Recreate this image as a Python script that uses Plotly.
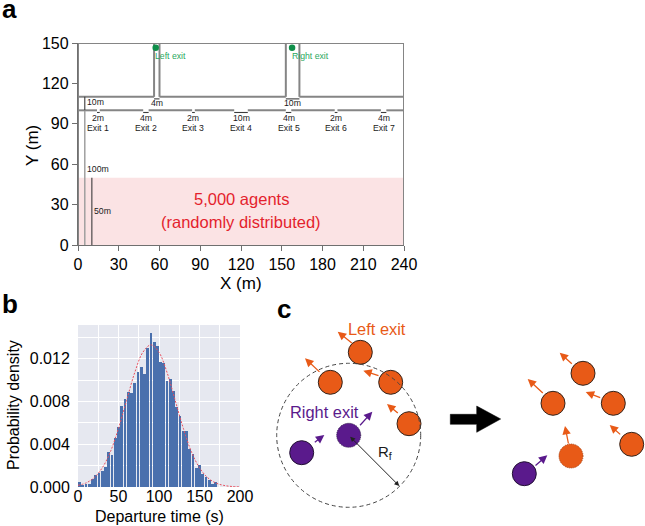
import plotly.graph_objects as go

W, H = 645, 526
FONT = "Liberation Sans"

# ---------- panel a data ----------
x_ticks_a = [0, 30, 60, 90, 120, 150, 180, 210, 240]
y_ticks_a = [0, 30, 60, 90, 120, 150]
exit_names = ["Exit 1", "Exit 2", "Exit 3", "Exit 4", "Exit 5", "Exit 6", "Exit 7"]
exit_centers = [15, 50, 85, 120, 155, 190, 225]
exit_widths = [2, 4, 2, 10, 4, 2, 4]
corridor_left = [56, 60]
corridor_right = [153, 163]
agents_height = 50
target_x = [57.2, 157.6]
target_y = [146.4, 146.4]

# ---------- panel b data ----------
bin_width = 4
hist_values = [
    .0005, .0002, .00025, .00025, .00075, .0011, .00135, .0015, .0019, .0033, .0030,
    .0046, .0056, .0076, .0082, .0089, .0088, .0097, .0108, .0112, .0106, .0130,
    .0144, .0136, .0132, .0117, .0116, .0099, .0101, .0090, .0075, .0066, .0052,
    .0052, .0036, .0031, .0018, .0021, .0012, .0009, .0007, .0003, .0005,
]
curve_x = [0, 10, 20, 30, 40, 50, 60, 70, 80, 90, 100, 110, 120, 130, 140, 150, 160, 170, 180, 190, 200]
curve_y = [.00015, .00038, .00088, .0018, .0033, .0055, .0081, .0107, .0126, .0133, .0126,
           .0107, .0081, .0055, .0033, .0018, .00088, .00038, .00015, .00005, .00002]

# ---------- panel c data (schematic, canvas pixels) ----------
orange_x = [360.3, 330.3, 390.7, 409.0, 583.0, 553.0, 613.3, 631.7]
orange_y = [352.3, 382.3, 382.3, 423.7, 373.3, 403.3, 403.3, 444.3]
purple_x = [301.7, 524.3]
purple_y = [452.7, 473.7]
dashed_orange = (571.0, 456.0)
dashed_purple = (348.7, 435.3)
range_circle = (348.7, 435.3, 72.0)
orange_arrows = [
    (353.3, 344.3, 337.7, 331.7), (321.0, 373.3, 305.0, 358.3), (380.0, 376.0, 363.3, 370.7),
    (399.3, 414.3, 387.0, 404.0), (573.3, 365.0, 559.7, 352.7), (544.3, 394.3, 527.7, 379.0),
    (601.7, 398.3, 585.7, 392.0), (621.7, 435.7, 609.7, 425.0), (568.7, 445.0, 565.0, 426.0),
]
purple_arrows = [(313.3, 443.3, 324.3, 435.0), (358.7, 426.7, 372.3, 411.7), (534.0, 466.7, 547.3, 455.3)]
big_arrow_x = [450.3, 476.7, 476.7, 500.7, 476.7, 476.7, 450.3, 450.3]
big_arrow_y = [414.3, 414.3, 406.0, 419.0, 432.3, 424.3, 424.3, 414.3]

GREY = "#858585"
DARK = "#3c3c3c"
ORANGE = "#e85a17"
PURPLE = "#5a1a8c"
TXT = "#1a1a1a"

# walls (data units of panel a)
wx, wy = [], []
def seg(x0, y0, x1, y1):
    wx.extend([x0, x1, None])
    wy.extend([y0, y1, None])

seg(0, 150, 240, 150)
seg(0, 0, 0, 150)
seg(240, 0, 240, 150)
seg(0, 110, corridor_left[0], 110)
seg(corridor_left[1], 110, corridor_right[0], 110)
seg(corridor_right[1], 110, 240, 110)
for c in corridor_left + corridor_right:
    seg(c, 110, c, 150)
edge = 0
for c, w in zip(exit_centers, exit_widths):
    seg(edge, 100, c - w / 2, 100)
    edge = c + w / 2
seg(edge, 100, 240, 100)

# brackets
bx, by = [], []
def brk(x0, y0, x1, y1):
    bx.extend([x0, x1, None])
    by.extend([y0, y1, None])

for c, w in zip(exit_centers, exit_widths):
    brk(c - w / 2, 98.4, c + w / 2, 98.4)
brk(corridor_left[0], 108.5, corridor_left[1], 108.5)
brk(corridor_right[0], 108.5, corridor_right[1], 108.5)
brk(5, 100, 5, 110)
brk(10.2, 0, 10.2, agents_height)

fig = go.Figure()

# --- panel a
fig.add_trace(go.Scatter(x=wx, y=wy, mode="lines", line=dict(color=GREY, width=2), xaxis="x", yaxis="y",
                         cliponaxis=False, hoverinfo="skip", showlegend=False))
fig.add_trace(go.Scatter(x=[5, 5], y=[0, 100], mode="lines", line=dict(color="#a0a0a0", width=1.5), xaxis="x",
                         yaxis="y", hoverinfo="skip", showlegend=False))
fig.add_trace(go.Scatter(x=bx, y=by, mode="lines", line=dict(color=DARK, width=1.1), xaxis="x", yaxis="y",
                         cliponaxis=False, hoverinfo="skip", showlegend=False))
fig.add_trace(go.Scatter(x=target_x, y=target_y, mode="markers", marker=dict(color="#0f8f4a", size=6.5), xaxis="x",
                         yaxis="y", showlegend=False))

# --- panel b
fig.add_trace(go.Bar(x=[bin_width * (i + .5) for i in range(len(hist_values))], y=hist_values, width=bin_width * .86,
                     marker=dict(color="#4a70ad", line=dict(width=0)), xaxis="x2", yaxis="y2", showlegend=False))
fig.add_trace(go.Scatter(x=curve_x, y=curve_y, mode="lines", line=dict(color="#e8505f", width=1, dash="2px,1.5px", shape="spline"),
                         xaxis="x2", yaxis="y2", showlegend=False))

# --- panel c
fig.add_trace(go.Scatter(x=big_arrow_x, y=big_arrow_y, mode="lines", fill="toself", fillcolor="black",
                         line=dict(color="black", width=0.5), xaxis="x3", yaxis="y3", hoverinfo="skip", showlegend=False))
fig.add_trace(go.Scatter(x=orange_x, y=orange_y, mode="markers", marker=dict(color=ORANGE, size=24, line=dict(color="#33241c", width=1)),
                         xaxis="x3", yaxis="y3", showlegend=False))
fig.add_trace(go.Scatter(x=purple_x, y=purple_y, mode="markers", marker=dict(color=PURPLE, size=24, line=dict(color="#221133", width=1)),
                         xaxis="x3", yaxis="y3", showlegend=False))

def circ(cx, cy, r, fill, color, dash, width=1):
    return dict(type="circle", xref="x3", yref="y3", x0=cx - r, x1=cx + r, y0=cy - r, y1=cy + r,
                fillcolor=fill, line=dict(color=color, width=width, dash=dash), layer="above")

shapes = [
    dict(type="rect", xref="x", yref="y", x0=0, x1=240, y0=0, y1=agents_height, fillcolor="#fbe3e4",
         line=dict(width=0), layer="below"),
    dict(type="rect", xref="x2", yref="y2", x0=0, x1=200, y0=0, y1=.01516, fillcolor="#e6e8f0",
         line=dict(width=0), layer="below"),
    circ(*range_circle, "rgba(0,0,0,0)", "#444444", "4px,3px"),
    circ(*dashed_purple, 12, PURPLE, "#33204a", "1px,1px"),
    circ(*dashed_orange, 12, ORANGE, "#a8481a", "1px,1px"),
]

ann = []
def text(x, y, s, size, color, xref="x", yref="y", **kw):
    ann.append(dict(x=x, y=y, xref=xref, yref=yref, text=s, showarrow=False,
                    font=dict(family=FONT, size=size, color=color), **kw))

# panel letters
for s, px, py in [("a", 9, 9), ("b", 9.5, 304), ("c", 283.5, 308.5)]:
    text(px, py, f"<b>{s}</b>", 26, "black", "x3", "y3")

# axis titles
text(241, 283, "X (m)", 17, "black", "x3", "y3")
text(32, 146, "Y (m)", 17, "black", "x3", "y3", textangle=-90)
text(159, 516, "Departure time (s)", 16, "black", "x3", "y3")
text(13, 405, "Probability density", 16, "black", "x3", "y3", textangle=-90)

# panel a texts
for c, w, n in zip(exit_centers, exit_widths, exit_names):
    text(c, 94.2, f"{w}m", 8.7, TXT)
    text(c, 87.0, n, 8.7, TXT)
text(12.9, 106.3, "10m", 8.7, TXT)
text(58, 105.2, "4m", 8.7, TXT)
text(157.8, 105.2, "10m", 8.7, TXT)
text(15, 56.4, "100m", 8.7, TXT)
text(18.3, 25.1, "50m", 8.7, TXT)
text(68.3, 140, "Left exit", 8.7, "#2aa860")
text(170.8, 140, "Right exit", 8.7, "#2aa860")
text(120, 34, "5,000 agents", 16.5, "#e41f2d")
text(120, 17, "(randomly distributed)", 16.5, "#e41f2d")

# panel c texts
text(377.3, 329, "Left exit", 16.4, ORANGE, "x3", "y3")
text(324.3, 412.3, "Right exit", 16.4, PURPLE, "x3", "y3")
text(384.5, 452, "R<sub>f</sub>", 15, TXT, "x3", "y3")

def arrow(x0, y0, x1, y1, color, width=1.3, size=1.3, **kw):
    ann.append(dict(x=x1, y=y1, ax=x0, ay=y0, xref="x3", yref="y3", axref="x3", ayref="y3", text="",
                    showarrow=True, arrowhead=2, arrowsize=size, arrowwidth=width, arrowcolor=color, **kw))

for a in orange_arrows:
    arrow(*a, ORANGE)
for a in purple_arrows:
    arrow(*a, PURPLE)
arrow(348.7, 435.3, 399.3, 486.0, "#222222", width=1, size=1, arrowside="end+start", startarrowhead=2, startarrowsize=1)

axis_line = dict(showline=True, linecolor="#6f6f6f", linewidth=1.3, ticks="outside", ticklen=5, tickcolor="#6f6f6f",
                 tickfont=dict(family=FONT, size=16, color="black"), showgrid=False, zeroline=False, automargin=False)
b_tick = dict(family=FONT, size=16, color="black")

fig.update_layout(
    width=W, height=H, margin=dict(l=0, r=0, t=0, b=0), paper_bgcolor="white", plot_bgcolor="rgba(0,0,0,0)",
    font=dict(family=FONT), showlegend=False, bargap=0, shapes=shapes, annotations=ann,
    xaxis=dict(domain=[78 / W, 404 / W], range=[0, 240], tickvals=x_ticks_a, anchor="y", **axis_line),
    yaxis=dict(domain=[1 - 245 / H, 1 - 43 / H], range=[0, 150], tickvals=y_ticks_a, anchor="x", **axis_line),
    xaxis2=dict(domain=[78 / W, 240 / W], range=[0, 200], tickvals=[0, 25, 50, 75, 100, 125, 150, 175, 200],
                ticktext=["0", "", "50", "", "100", "", "150", "", "200"], anchor="y2", showline=False, zeroline=False,
                showgrid=True, gridcolor="white", gridwidth=1, ticks="", ticklabelstandoff=-2,
                tickfont=b_tick, automargin=False),
    yaxis2=dict(domain=[1 - 487 / H, 1 - 325 / H], range=[0, .01516],
                tickvals=[0, .002, .004, .006, .008, .010, .012, .014],
                ticktext=["0.000", "", "0.004", "", "0.008", "", "0.012", ""], anchor="x2", showline=False, zeroline=False,
                showgrid=True, gridcolor="white", gridwidth=1, ticks="outside", ticklen=4, tickcolor="rgba(0,0,0,0)",
                tickfont=b_tick, automargin=False),
    xaxis3=dict(domain=[0, 1], range=[0, W], visible=False, anchor="y3", fixedrange=True, automargin=False),
    yaxis3=dict(domain=[0, 1], range=[H, 0], visible=False, anchor="x3", fixedrange=True, automargin=False),
)

fig.write_html("out.html", config=dict(displayModeBar=False), post_script="document.body.style.margin='0';")
